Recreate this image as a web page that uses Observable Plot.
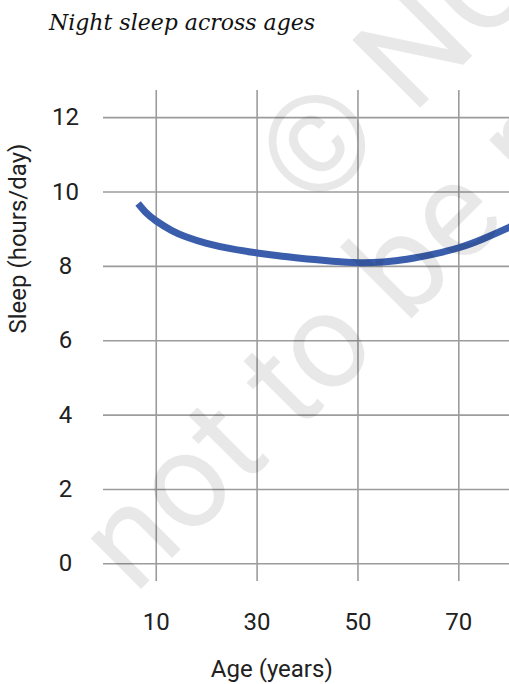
<!DOCTYPE html>
<html>
<head>
<meta charset="utf-8">
<script src="https://cdn.jsdelivr.net/npm/d3@7"></script>
<script src="https://cdn.jsdelivr.net/npm/@observablehq/plot@0.6"></script>
<style>
  html, body { margin: 0; padding: 0; background: #fff; }
  #wrap { position: relative; width: 509px; height: 684px; overflow: hidden; }
  #title { height: 40px; box-sizing: border-box; padding-left: 49px; padding-top: 11px;
    font-family: "DejaVu Serif", serif; font-style: italic; font-size: 22px; line-height: 24px; color: #111; white-space: nowrap; }
  #chart svg { overflow: visible; display: block; }
</style>
</head>
<body>
<div id="wrap">
  <div id="title">Night sleep across ages</div>
  <div id="chart"></div>
</div>
<script>
const titleText = "Night sleep across ages";
const xLabel = "Age (years)";
const yLabel = "Sleep (hours/day)";
const xTicks = [10, 30, 50, 70];
const yTicks = [0, 2, 4, 6, 8, 10, 12];
const ages  = [6.4, 8, 10, 13, 16, 20, 25, 30, 35, 40, 45, 50, 55, 60, 65, 70, 75, 80, 80.5];
const sleep = [9.69, 9.44, 9.22, 8.97, 8.79, 8.62, 8.47, 8.36, 8.27, 8.20, 8.14, 8.10, 8.12, 8.20, 8.33, 8.50, 8.75, 9.05, 9.08];
const watermarkTop = ["© NCERT"];
const watermarkBottom = ["not to be republished"];

const data = ages.map((a, i) => ({age: a, sleep: sleep[i]}));
const gridStyle = {stroke: "#9c9c9c", strokeWidth: 1.6, strokeOpacity: 1};
const wm = {frameAnchor: "top-left", textAnchor: "start", lineAnchor: "bottom", rotate: -45,
  fontSize: 135, fontWeight: 400, fill: "#000", fillOpacity: 0.09};

const chart = Plot.plot({
  width: 509,
  height: 644,
  marginTop: 50,
  marginBottom: 103,
  marginLeft: 103,
  marginRight: 0,
  x: {domain: [-0.46, 80.05], axis: null},
  y: {domain: [-0.476, 12.73], axis: null},
  style: {fontFamily: "Roboto, sans-serif", background: "transparent", color: "#212121"},
  marks: [
    Plot.ruleY(yTicks, {y: d => d, ...gridStyle}),
    Plot.ruleX(xTicks, {x: d => d, ...gridStyle}),
    Plot.line(data, {x: "age", y: "sleep", stroke: "#3a5eab", strokeWidth: 7, curve: "natural", strokeLinecap: "butt", clip: true}),
    Plot.text(yTicks, {y: d => d, text: d => String(d), frameAnchor: "left", dx: -38, textAnchor: "middle", lineAnchor: "middle", fontSize: 24, fill: "#212121"}),
    Plot.text(xTicks, {x: d => d, text: d => String(d), frameAnchor: "bottom", dy: 41, lineAnchor: "middle", fontSize: 24, fill: "#212121"}),
    Plot.text([xLabel], {text: d => d, frameAnchor: "bottom", dx: -34.7, dy: 95, lineAnchor: "bottom", fontSize: 24, fill: "#212121"}),
    Plot.text([yLabel], {text: d => d, frameAnchor: "left", dx: -78, dy: -2.5, rotate: -90, lineAnchor: "bottom", fontSize: 24, fill: "#212121"}),
    Plot.text(watermarkTop, {text: d => d, ...wm, dx: 210, dy: 124}),
    Plot.text(watermarkBottom, {text: d => d, ...wm, dx: 31, dy: 505})
  ]
});
document.getElementById("chart").appendChild(chart);
</script>
</body>
</html>
